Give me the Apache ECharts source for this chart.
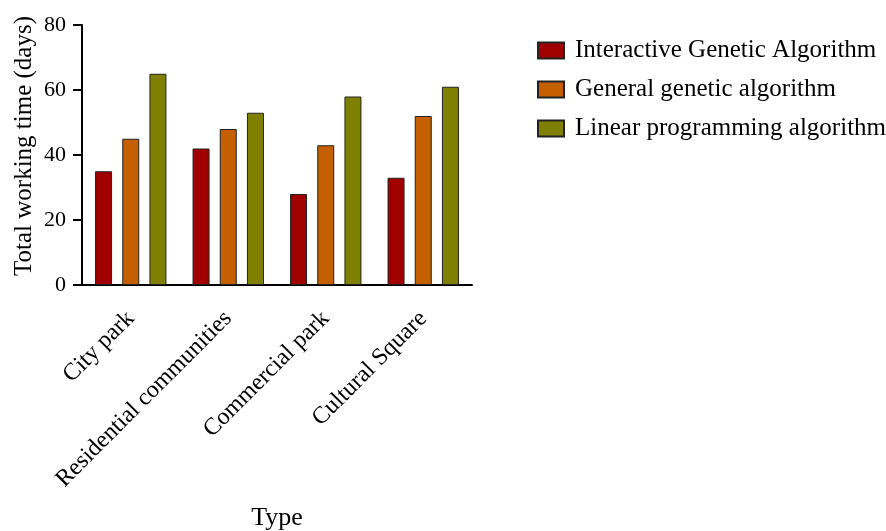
<!DOCTYPE html>
<html><head><meta charset="utf-8">
<script src="https://cdn.jsdelivr.net/npm/echarts@6/dist/echarts.min.js"></script>
<style>html,body{margin:0;padding:0;background:#fff}#c{width:886px;height:531px}</style>
</head><body><div id="c"></div>
<script>
const categories = ['City park', 'Residential communities', 'Commercial park', 'Cultural Square'];
const seriesNames = ['Interactive Genetic Algorithm', 'General genetic algorithm', 'Linear programming algorithm'];
const interactiveGA = [35, 42, 28, 33];
const generalGA = [45, 48, 43, 52];
const linearProg = [65, 53, 58, 61];
const colors = ['#A00000', '#C46000', '#808000'];
const font = 'Liberation Serif, Times New Roman, serif';

const chart = echarts.init(document.getElementById('c'));
const values = [interactiveGA, generalGA, linearProg];
chart.setOption({
  animation: false,
  textStyle: { fontFamily: font, color: '#000' },
  legend: {
    orient: 'vertical', left: 532, top: 33,
    icon: 'rect',
    itemWidth: 26, itemHeight: 16, itemGap: 14,
    textStyle: { fontFamily: font, fontSize: 25, color: '#000', padding: [0, 0, 0, 6] },
    data: seriesNames
  },
  grid: { left: 82, top: 25, width: 390, height: 260, containLabel: false, outerBoundsMode: 'none' },
  xAxis: {
    type: 'category', data: categories,
    name: 'Type', nameLocation: 'middle', nameGap: 220,
    nameTextStyle: { fontFamily: font, fontSize: 26, color: '#000' },
    axisLine: { lineStyle: { color: '#000', width: 2 } },
    axisTick: { alignWithLabel: true, length: 10, lineStyle: { color: '#000', width: 2 } },
    axisLabel: { rotate: 45, fontFamily: font, fontSize: 24, color: '#000', margin: 30 }
  },
  yAxis: {
    type: 'value', min: 0, max: 80, interval: 20,
    name: 'Total working time (days)', nameLocation: 'middle', nameGap: 45,
    nameTextStyle: { fontFamily: font, fontSize: 25, color: '#000', padding: [0, 0, 0, 18] },
    axisLine: { show: true, lineStyle: { color: '#000', width: 2 } },
    axisTick: { show: true, length: 9, lineStyle: { color: '#000', width: 2 } },
    axisLabel: { fontFamily: font, fontSize: 22, color: '#000', margin: 16 },
    splitLine: { show: false }
  },
  series: seriesNames.map((n, i) => ({
    name: n, type: 'bar', data: values[i],
    barWidth: 17, barGap: '60%',
    itemStyle: { color: colors[i], borderColor: '#222', borderWidth: 1 }
  }))
});
</script></body></html>
